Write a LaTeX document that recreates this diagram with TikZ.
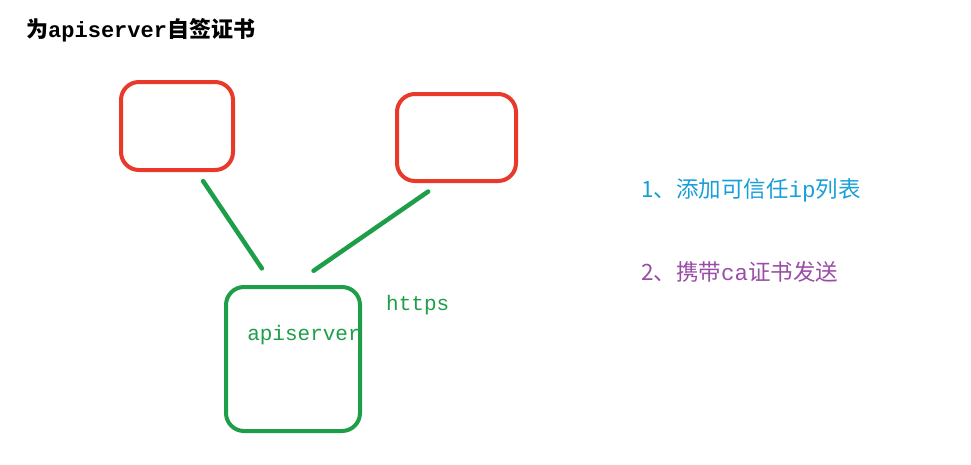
\documentclass[tikz,border=0pt]{standalone}
\usepackage{fontspec}
\newfontfamily\cjk{Noto Sans CJK SC}
\newfontfamily\latn{Liberation Mono}
\usetikzlibrary{calc}
\definecolor{boxred}{HTML}{E8392B}
\definecolor{boxgreen}{HTML}{1E9E48}
\definecolor{stepblue}{HTML}{189FD8}
\definecolor{steppurple}{HTML}{9A4DA6}
\tikzset{
	redbox/.style={draw=boxred, line width=4pt, rounded corners=18pt, inner sep=0pt},
	greenbox/.style={draw=boxgreen, line width=4pt, rounded corners=18pt, inner sep=0pt},
	link/.style={draw=boxgreen, line width=4.5pt, line cap=round},
	txt/.style={inner sep=0pt, font=\fontsize{22.5}{26}\selectfont},
	smalltxt/.style={inner sep=0pt, text=boxgreen, font=\fontsize{21}{25}\selectfont}
}

\begin{document}
\begin{tikzpicture}[x=1pt, y=-1pt]
		%%%%% START %%%%%
		\useasboundingbox (0, 0) rectangle (971, 464);
		
		\node[txt, anchor=west, font=\fontsize{22}{26}\selectfont\bfseries] (title) at (26, 30) {{\cjk 为}{\latn apiserver}{\cjk 自签证书}};
		
		\node[redbox, minimum width=112pt, minimum height=88pt] (left) at (177, 126) {};
		\node[redbox, minimum width=119pt, minimum height=87pt] (right) at (456.5, 137.5) {};
		\node[greenbox, minimum width=134pt, minimum height=144pt] (api) at (293, 359) {};
		
		\draw[link, shorten <=11pt, shorten >=20pt] ([xshift=20pt]left.south) -- ([xshift=-20pt]api.north);
		\draw[link, shorten <=15pt, shorten >=25pt] ([xshift=-16pt]right.south) -- (api.north);
		
		\node[smalltxt] (apitext) at (304, 335) {\latn apiserver};
		\node[smalltxt, anchor=west] (https) at (386, 305) {\latn https};
		
		\node[txt, text=stepblue, anchor=west] (stepa) at (641, 190) {{\cjk 1、添加可信任}{\latn ip}{\cjk 列表}};
		\node[txt, text=steppurple, anchor=west] (stepb) at (641, 272) {{\cjk 2、携带}{\latn ca}{\cjk 证书发送}};
		%%%%% END %%%%%
	\end{tikzpicture}
\end{document}
